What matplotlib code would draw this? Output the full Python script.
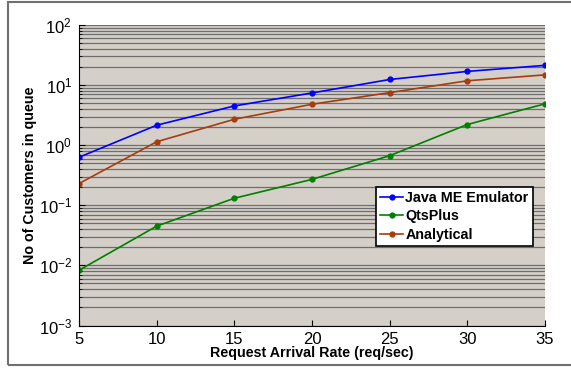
import matplotlib.pyplot as plt
from matplotlib.patches import Rectangle
from matplotlib.ticker import LogLocator, NullFormatter

plt.rcParams['font.family'] = ['Liberation Sans', 'DejaVu Sans']

rates = [5, 10, 15, 20, 25, 30, 35]
java_me = [0.63, 2.15, 4.5, 7.4, 12.4, 16.9, 21.3]
qtsplus = [0.0083, 0.045, 0.131, 0.27, 0.67, 2.21, 4.88]
analytical = [0.23, 1.14, 2.7, 4.8, 7.5, 11.8, 14.8]

fig = plt.figure(figsize=(5.71, 3.71), dpi=100)
fig.patches.append(Rectangle((8 / 571, 6 / 371), 1.0, 363 / 371, transform=fig.transFigure,
                             fill=False, edgecolor='#707070', lw=1.5))
ax = fig.add_axes([79 / 571, (371 - 325.5) / 371, 466 / 571, 300.5 / 371])
ax.set_facecolor('#d4d0c8')

ax.plot(rates, java_me, '-o', color='#0000ff', ms=3.5, lw=1.2, label='Java ME Emulator')
ax.plot(rates, qtsplus, '-o', color='#008000', ms=3.5, lw=1.2, label='QtsPlus')
ax.plot(rates, analytical, '-o', color='#a83c0c', ms=3.5, lw=1.2, label='Analytical')

ax.set_yscale('log')
ax.set_ylim(1e-3, 1e2)
ax.set_xlim(5, 35)
ax.set_xticks(rates)
ax.yaxis.set_major_locator(LogLocator(base=10, numticks=10))
ax.yaxis.set_minor_locator(LogLocator(base=10, subs=range(2, 10), numticks=10))
ax.yaxis.set_minor_formatter(NullFormatter())
ax.grid(True, which='both', axis='y', color='#6e6e6e', lw=0.9)
ax.set_axisbelow(True)

for s in ['top', 'right']:
    ax.spines[s].set_visible(False)
ax.tick_params(direction='in', labelsize=12, length=4, pad=5)
ax.tick_params(which='minor', direction='in', length=2)

ax.set_xlabel('Request Arrival Rate (req/sec)', fontsize=10.3, fontweight='bold', labelpad=-1)
ax.set_ylabel('No of Customers in queue', fontsize=10.3, fontweight='bold', labelpad=1)

leg = ax.legend(loc='lower right', bbox_to_anchor=(0.974, 0.265), fancybox=False,
                framealpha=1, edgecolor='black', fontsize=10.3, handlelength=1.6,
                handletextpad=0.15, borderpad=0.3, labelspacing=0.3, borderaxespad=0)
leg.get_frame().set_linewidth(1.2)
for t in leg.get_texts():
    t.set_fontweight('bold')

fig.savefig('out.png', dpi=100)
